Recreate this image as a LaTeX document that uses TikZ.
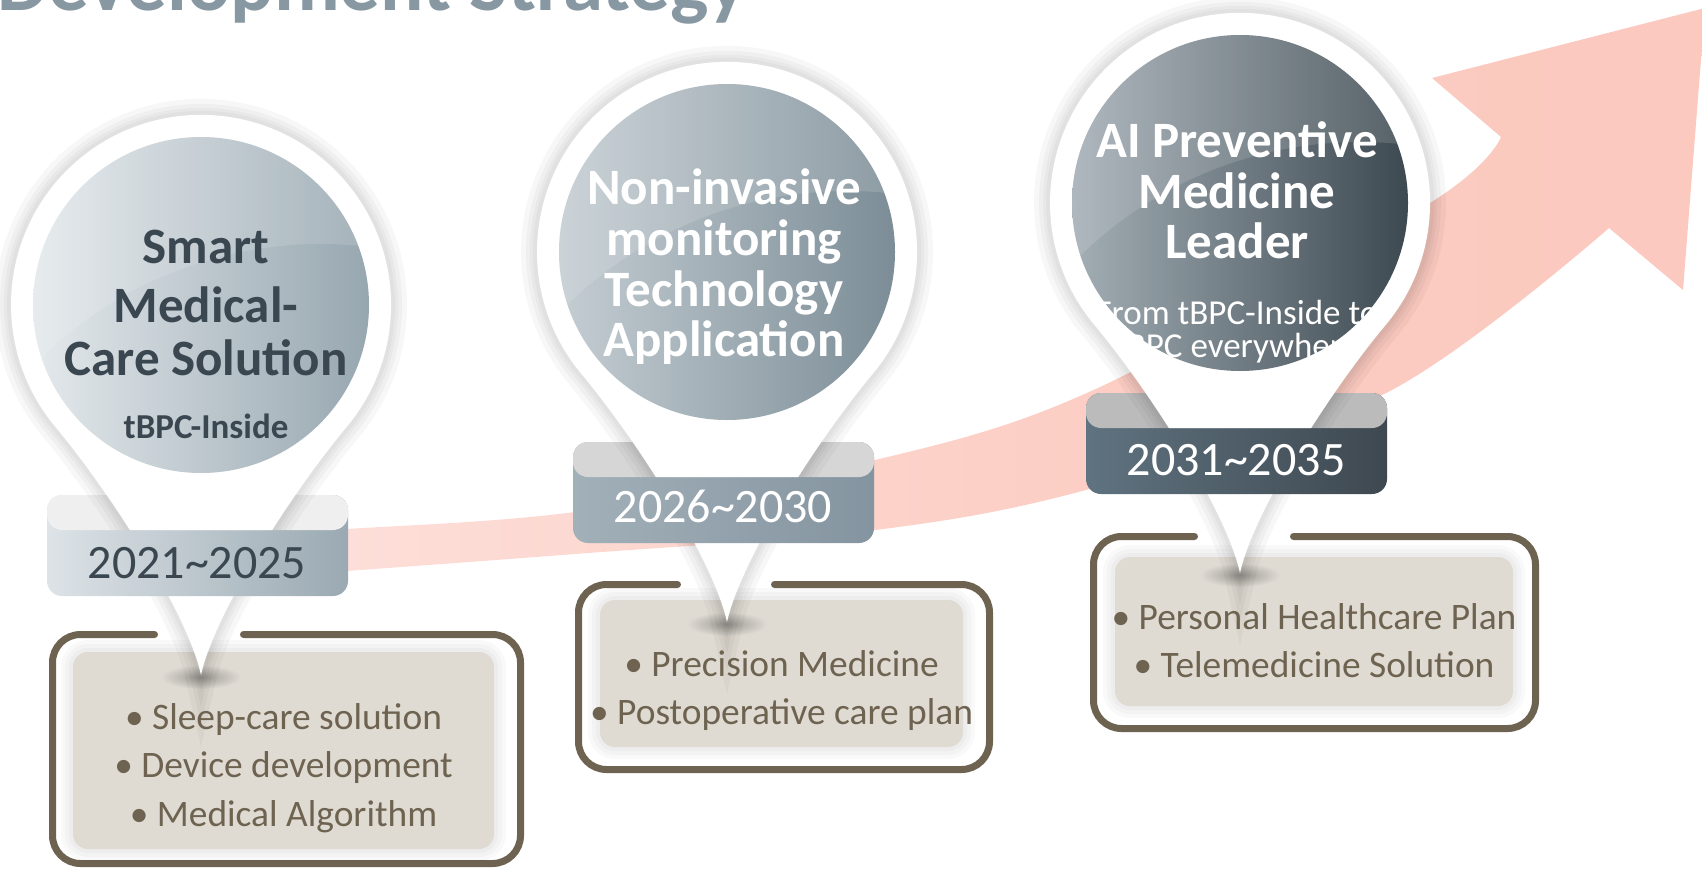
\documentclass[tikz,border=0pt]{standalone}
\usepackage{fontspec}
\setmainfont{Carlito}
\usepackage{xcolor}
\usepackage{tikz}
\usetikzlibrary{positioning, calc}
\definecolor{titlec}{HTML}{8798A2}
\definecolor{pinkc}{HTML}{FBC6BB}
\definecolor{framec}{HTML}{6E6350}
\definecolor{boxfill}{HTML}{DFDBD3}
\definecolor{darktext}{HTML}{3B4750}
\definecolor{ca1}{HTML}{E4E9EC}\definecolor{cb1}{HTML}{97A7B0}
\definecolor{ca2}{HTML}{C4CDD2}\definecolor{cb2}{HTML}{7C8D97}
\definecolor{ca3}{HTML}{A3AEB5}\definecolor{cb3}{HTML}{3D4951}
\definecolor{ya1}{HTML}{DDE3E7}\definecolor{yb1}{HTML}{9AA9B2}\definecolor{band1}{HTML}{EFEFEF}
\definecolor{ya2}{HTML}{A2B0B8}\definecolor{yb2}{HTML}{8494A0}\definecolor{band2}{HTML}{D6D6D6}
\definecolor{ya3}{HTML}{5F7380}\definecolor{yb3}{HTML}{3E4850}\definecolor{band3}{HTML}{BBBBBB}
\pgfdeclarehorizontalshading{pinkfade}{100bp}{color(0bp)=(pinkc!25); color(5bp)=(pinkc!38); color(21bp)=(pinkc!50); color(42bp)=(pinkc!75); color(60bp)=(pinkc!92); color(100bp)=(pinkc)}
\tikzset{
    circtitle/.style={font=\fontsize{25.5}{29}\selectfont\bfseries, inner sep=0, anchor=base},
    circsub/.style={font=\fontsize{17.5}{20}\selectfont, inner sep=0, anchor=base},
    yeartext/.style={font=\fontsize{24}{28}\selectfont, inner sep=0, anchor=base},
    bullet/.style={font=\fontsize{18.7}{22}\selectfont, text=framec, inner sep=0, anchor=base},
    frameline/.style={draw=framec, line width=3.5pt, line cap=round, rounded corners=14pt},
    infill/.style={fill=boxfill, rounded corners=7.5pt},
    glow/.style={draw=black, opacity=0.025, rounded corners=7.5pt}
}
% pin outline: tip below, round head above
\newcommand{\pinpath}[2]{(#1,#2+370) .. controls (#1-13,#2+310) and (#1-88,#2+191) .. (#1-145.5,#2+122) arc[start angle=140, end angle=400, radius=190] .. controls (#1+88,#2+191) and (#1+13,#2+310) .. cycle}
% #1 cx, #2 cy, #3/#4 circle colours, #5/#6 year box colours, #7 band colour
\newcommand{\drawpin}[7]{%
    \shade[inner color=black!30!boxfill, outer color=boxfill] (#1,#2+372) ellipse[x radius=40, y radius=12];
    \foreach \w in {16,11,7,4}{\draw[line width=\w pt, black, opacity=0.03] \pinpath{#1}{#2};}
    \fill[white] \pinpath{#1}{#2};
    \shade[left color=#3, right color=#4] (#1,#2) circle[radius=168];
    \begin{scope}
        \clip (#1,#2) circle[radius=168];
        \fill[white, opacity=0.13, even odd rule] (#1,#2) circle[radius=168] (#1+120,#2+340) circle[radius=401];
    \end{scope}
    \shade[left color=#5, right color=#6, rounded corners=7.5pt] (#1-154,#2+190) rectangle (#1+147,#2+291);
    \fill[#7, rounded corners=7.5pt] (#1-154,#2+190) rectangle (#1+147,#2+225);
    \begin{scope}
        \clip[rounded corners=7.5pt] (#1-154,#2+190) rectangle (#1+147,#2+225);
        \foreach \w in {16,11,7,4}{\draw[line width=\w pt, black, opacity=0.03] \pinpath{#1}{#2};}
        \fill[white] \pinpath{#1}{#2};
    \end{scope}
}

\begin{document}
\begin{tikzpicture}[x=0.5pt, y=-0.5pt]
    \useasboundingbox (0,0) rectangle (1702,868);
    \clip (0,0) rectangle (1702,868);

    \node[anchor=base west, inner sep=0, text=titlec, font=\fontsize{40.5}{44}\selectfont\bfseries] (title) at (-3,10) {Development Strategy};

    % rising arrow
    \shade[shading=pinkfade] plot[smooth, tension=0.55] coordinates {(280,576) (347,571) (575,554) (875,530) (1086,490) (1386,393) (1609,228)}
        -- (1683,290) -- (1705,8) -- (1432,78)
        -- plot[smooth, tension=0.55] coordinates {(1501,137) (1430,203) (1100,387) (875,460) (575,512) (347,529) (280,533)} -- cycle;

    % text boxes
    \draw[frameline] (154.5,634.5) -- (52.5,634.5) -- (52.5,863.5) -- (520.5,863.5) -- (520.5,634.5) -- (243.5,634.5);
    \foreach \w in {12,8,4}{\draw[glow, line width=\w pt] (73,652) rectangle (494,849);}
    \fill[infill] (73,652) rectangle (494,849);

    \draw[frameline] (677.5,584.5) -- (578.5,584.5) -- (578.5,769.5) -- (989.5,769.5) -- (989.5,584.5) -- (774.5,584.5);
    \foreach \w in {12,8,4}{\draw[glow, line width=\w pt] (600,600) rectangle (963,747);}
    \fill[infill] (600,600) rectangle (963,747);

    \draw[frameline] (1194.5,536.5) -- (1093.5,536.5) -- (1093.5,728.5) -- (1535.5,728.5) -- (1535.5,536.5) -- (1293.5,536.5);
    \foreach \w in {12,8,4}{\draw[glow, line width=\w pt] (1115,557) rectangle (1513,706);}
    \fill[infill] (1115,557) rectangle (1513,706);

    % pins
    \drawpin{201}{305}{ca1}{cb1}{ya1}{yb1}{band1}
    \drawpin{727}{252}{ca2}{cb2}{ya2}{yb2}{band2}
    \drawpin{1240}{203}{ca3}{cb3}{ya3}{yb3}{band3}

    \node[circtitle, text=darktext] (smart) at (206,263) {Smart};
    \node[circtitle, text=darktext] (medical) at (206,322) {Medical-};
    \node[circtitle, text=darktext] (care) at (206,375) {Care Solution};
    \node[circsub, text=darktext, font=\fontsize{17.5}{20}\selectfont\bfseries] (inside) at (206,438) {tBPC-Inside};

    \node[circtitle, text=white] (noninv) at (724,204) {Non-invasive};
    \node[circtitle, text=white] (monit) at (724,255) {monitoring};
    \node[circtitle, text=white] (techn) at (724,306) {Technology};
    \node[circtitle, text=white] (appl) at (724,356) {Application};

    \node[circtitle, text=white] (aiprev) at (1237,157) {AI Preventive};
    \node[circtitle, text=white] (medic) at (1237,208) {Medicine};
    \node[circtitle, text=white] (leader) at (1237,258) {Leader};
    \node[circsub, text=white] (from) at (1237,324) {From tBPC-Inside to};
    \node[circsub, text=white] (every) at (1237,357) {tBPC everywhere};

    \node[yeartext, text=darktext] (yr1) at (197,578) {2021\textasciitilde 2025};
    \node[yeartext, text=white] (yr2) at (723,522) {2026\textasciitilde 2030};
    \node[yeartext, text=white] (yr3) at (1236,475) {2031\textasciitilde 2035};

    \node[bullet] (sleep) at (283.5,729) {• Sleep-care solution};
    \node[bullet] (device) at (283.5,777) {• Device development};
    \node[bullet] (algo) at (283.5,826) {• Medical Algorithm};

    \node[bullet] (precis) at (781.5,676) {• Precision Medicine};
    \node[bullet] (postop) at (781.5,724) {• Postoperative care plan};

    \node[bullet] (person) at (1314,629) {• Personal Healthcare Plan};
    \node[bullet] (telem) at (1314,677) {• Telemedicine Solution};
\end{tikzpicture}
\end{document}
